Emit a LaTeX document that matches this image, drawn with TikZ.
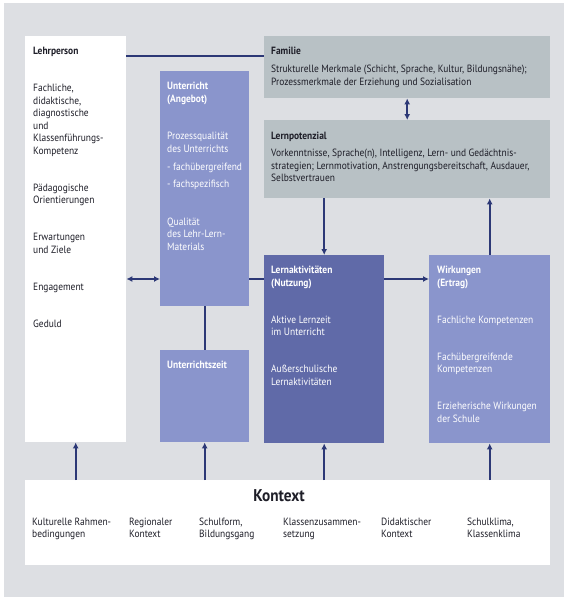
\documentclass[tikz,border=0pt]{standalone}
\usepackage{fontspec}
\setmainfont{PT Sans}[FakeStretch=0.9]
\usetikzlibrary{arrows.meta, positioning, calc}
\definecolor{bggrey}{RGB}{221,223,227}
\definecolor{boxgrey}{RGB}{184,193,197}
\definecolor{boxblue}{RGB}{138,149,204}
\definecolor{boxdark}{RGB}{96,106,168}
\definecolor{mynavy}{RGB}{44,56,118}
\definecolor{mytext}{RGB}{30,30,40}
\tikzset{
  box/.style={rectangle, anchor=north west, inner sep=0pt},
  whitebox/.style={box, fill=white},
  greybox/.style={box, fill=boxgrey},
  bluebox/.style={box, fill=boxblue},
  darkbox/.style={box, fill=boxdark},
  txt/.style={anchor=north west, align=left, inner sep=0pt, text=mytext,
    font=\fontsize{10.5}{12.5}\selectfont},
  wtxt/.style={txt, text=white},
  arrow/.style={-{Latex[length=6pt,width=6pt]}, line width=1.6pt, color=mynavy},
  dblarrow/.style={{Latex[length=6pt,width=6pt]}-{Latex[length=6pt,width=6pt]}, line width=1.6pt, color=mynavy},
  line/.style={line width=1.6pt, color=mynavy}
}

\begin{document}
\begin{tikzpicture}[x=1pt, y=-1pt]
  \useasboundingbox (0,0) rectangle (568,600);
  \fill[bggrey] (4,3) rectangle (564,597);

  % boxes
  \node[whitebox, minimum width=101pt, minimum height=406pt] (lehr) at (25,36) {};
  \node[bluebox, minimum width=89pt, minimum height=235pt] (unt) at (160,71) {};
  \node[bluebox, minimum width=89pt, minimum height=92pt] (uzeit) at (160,350) {};
  \node[greybox, minimum width=286pt, minimum height=62pt] (fam) at (264,36) {};
  \node[greybox, minimum width=286pt, minimum height=78pt] (lpot) at (264,120) {};
  \node[darkbox, minimum width=120pt, minimum height=188pt] (lakt) at (264,255) {};
  \node[bluebox, minimum width=121pt, minimum height=188pt] (wirk) at (429,255) {};
  \node[whitebox, minimum width=525pt, minimum height=85pt] (kontext) at (25,480) {};
  \coordinate (midrow) at (0,279);

  % texts
  \node[txt] (lehrtxt) at ([xshift=8pt,yshift=-11pt]lehr.north west)
    {\textbf{Lehrperson}\\[24.5pt]
     Fachliche,\\didaktische,\\diagnostische\\und\\Klassenführungs-\\Kompetenz\\[24.5pt]
     Pädagogische\\Orientierungen\\[24.5pt]
     Erwartungen\\und Ziele\\[24.5pt]
     Engagement\\[24.5pt]
     Geduld};
  \node[wtxt] (unttxt) at ([xshift=7pt,yshift=-11pt]unt.north west)
    {\textbf{Unterricht}\\\textbf{(Angebot)}\\[25pt]
     Prozessqualität\\des Unterrichts\\[5.5pt]
     - fachübergreifend\\[5pt]
     - fachspezifisch\\[25pt]
     Qualität\\des Lehr-Lern-\\Materials};
  \node[wtxt] (uzeittxt) at ([xshift=7pt,yshift=-11pt]uzeit.north west)
    {\textbf{Unterrichtszeit}};
  \node[txt] (famtxt) at ([xshift=7pt,yshift=-11pt]fam.north west)
    {\textbf{Familie}\\[5.5pt]
     Strukturelle Merkmale (Schicht, Sprache, Kultur, Bildungsnähe);\\
     Prozessmerkmale der Erziehung und Sozialisation};
  \node[txt] (lpottxt) at ([xshift=7pt,yshift=-12pt]lpot.north west)
    {\textbf{Lernpotenzial}\\[4.5pt]
     Vorkenntnisse, Sprache(n), Intelligenz, Lern- und Gedächtnis-\\
     strategien; Lernmotivation, Anstrengungsbereitschaft, Ausdauer,\\
     Selbstvertrauen};
  \node[wtxt] (lakttxt) at ([xshift=7pt,yshift=-11pt]lakt.north west)
    {\textbf{Lernaktivitäten}\\\textbf{(Nutzung)}\\[24.5pt]
     Aktive Lernzeit\\im Unterricht\\[24.5pt]
     Außerschulische\\Lernaktivitäten};
  \node[wtxt] (wirktxt) at ([xshift=8pt,yshift=-11pt]wirk.north west)
    {\textbf{Wirkungen}\\\textbf{(Ertrag)}\\[24.5pt]
     Fachliche Kompetenzen\\[24.5pt]
     Fachübergreifende\\Kompetenzen\\[24.5pt]
     Erzieherische Wirkungen\\der Schule};
  \node[text=mytext, font=\bfseries\fontsize{17}{20}\selectfont] (ktitle) at (279,496) {Kontext};
  \foreach \x/\t [count=\i] in {32/{Kulturelle Rahmen-\\bedingungen}, 129/{Regionaler\\Kontext},
      199/{Schulform,\\Bildungsgang}, 283/{Klassenzusammen-\\setzung},
      381/{Didaktischer\\Kontext}, 467/{Schulklima,\\Klassenklima}}
    \node[txt] (kitem\i) at (\x,517.5) {\t};

  % connectors
  \draw[line] ([yshift=-20pt]lehr.north east) -- ([yshift=-20pt]fam.north west);
  \draw[dblarrow] (fam.south) -- (lpot.north);
  \draw[arrow] (lpot.south -| lakt.north) -- (lakt.north);
  \draw[arrow] (wirk.north) -- (wirk.north |- lpot.south);
  \draw[dblarrow] (lehr.east |- midrow) -- (unt.west |- midrow);
  \draw[line] (unt.east |- midrow) -- (lakt.west |- midrow);
  \draw[arrow] (lakt.east |- midrow) -- (wirk.west |- midrow);
  \draw[line] (unt.south) -- (uzeit.north);
  \foreach \n in {lehr, uzeit, lakt, wirk}
    \draw[arrow] (kontext.north -| \n.south) -- (\n.south);
\end{tikzpicture}
\end{document}
